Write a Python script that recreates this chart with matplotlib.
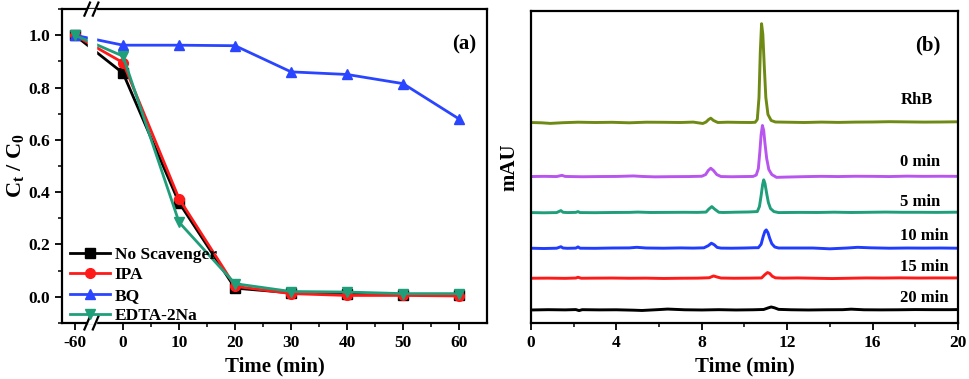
import numpy as np
import matplotlib
matplotlib.use('Agg')
from matplotlib import pyplot as plt

plt.rcParams['font.family'] = ['Liberation Serif', 'DejaVu Serif']
plt.rcParams['font.weight'] = 'bold'
plt.rcParams['mathtext.fontset'] = 'custom'
plt.rcParams['mathtext.rm'] = 'Liberation Serif:bold'
plt.rcParams['mathtext.bf'] = 'Liberation Serif:bold'
plt.rcParams['mathtext.it'] = 'Liberation Serif:bold'

# ---- (a) scavenger experiment ----
time_a = [-60, 0, 10, 20, 30, 40, 50, 60]
no_scav = [1.0, 0.855, 0.36, 0.033, 0.015, 0.010, 0.008, 0.008]
ipa = [1.0, 0.895, 0.375, 0.040, 0.012, 0.005, 0.005, 0.003]
bq = [1.0, 0.962, 0.962, 0.960, 0.860, 0.850, 0.815, 0.680]
edta = [1.0, 0.920, 0.285, 0.050, 0.020, 0.018, 0.012, 0.012]
series_a = [('No Scavenger', no_scav, 'black', 's'),
            ('IPA', ipa, '#ff1a1a', 'o'),
            ('BQ', bq, '#2a45ff', '^'),
            ('EDTA-2Na', edta, '#1f9e7a', 'v')]

# ---- (b) HPLC chromatograms (signal above each baseline) ----
t_rhb = [0, 0.5, 0.9, 1.5, 2.2, 3.0, 3.8, 4.6, 5.4, 6.2, 7.0, 7.6, 8.05, 8.2, 8.32, 8.42, 8.55, 8.75, 9.2, 9.8,
         10.3, 10.5, 10.6, 10.68, 10.74, 10.8, 10.86, 10.93, 11.0, 11.1, 11.25, 11.45, 12.0, 12.8, 13.6, 14.4,
         15.2, 16.0, 16.8, 17.6, 18.4, 19.2, 20.0]
y_rhb = [0, -0.3, -0.9, -0.2, 0.3, 0.0, 0.2, -0.3, 0.3, 0.2, 0.0, 0.4, -1.0, 0.5, 3.0, 4.3, 2.0, 0.0, 0.3, 0.1,
         0.0, 0.2, 3, 25, 70, 98.7, 88, 55, 25, 8, 2, 0.5, 0.3, 0.0, 0.4, 0.1,
         0.4, 0.5, 0.8, 0.6, 0.4, 0.5, 0.7]
t_0 = [0, 0.6, 1.2, 1.45, 1.6, 2.4, 3.2, 4.0, 4.8, 5.2, 5.8, 6.6, 7.4, 8.0, 8.18, 8.3, 8.42, 8.55, 8.7, 8.9,
       9.4, 10.0, 10.4, 10.55, 10.65, 10.72, 10.78, 10.84, 10.9, 10.96, 11.04, 11.14, 11.28, 11.5, 12.0, 12.8,
       13.6, 14.4, 15.2, 16.0, 16.8, 17.6, 18.4, 19.2, 20.0]
y_0 = [0, 0.2, 0.0, 1.2, 0.1, -0.2, 0.0, 0.1, 0.6, 0.1, -0.3, -0.1, 0.0, 0.3, 2.0, 6.0, 8.3, 6.0, 2.0, 0.0,
       -0.2, 0.0, 0.1, 1.5, 8, 25, 42, 51, 46, 33, 18, 7, 2, -0.8, -0.5, -0.1,
       0.2, 0.0, 0.3, 0.2, 0.0, 0.4, 0.2, 0.3, 0.2]
t_5 = [0, 0.6, 1.2, 1.4, 1.5, 1.7, 2.1, 2.2, 2.3, 3.0, 3.8, 4.6, 5.0, 5.6, 6.4, 7.2, 7.8, 8.2, 8.33, 8.47,
       8.6, 8.8, 9.0, 9.6, 10.2, 10.6, 10.7, 10.78, 10.85, 10.9, 10.96, 11.04, 11.12, 11.22, 11.38, 11.6,
       12.6, 13.4, 14.2, 15.0, 15.8, 16.6, 17.4, 18.2, 19.0, 20.0]
y_5 = [0, -0.2, 0.0, 2.0, 0.3, 0.0, 0.2, 1.0, 0.0, -0.1, 0.1, 0.2, 0.5, 0.1, 0.2, 0.3, 0.2, 0.5, 3.5, 6.0,
       3.5, 0.3, 0.1, 0.4, 0.6, 1.0, 6, 17, 28, 32.7, 29, 19, 10, 4, 1, 0.0,
       0.2, 0.1, 0.4, 0.1, 0.3, 0.5, 0.3, 0.3, 0.2, 0.4]
t_10 = [0, 0.6, 1.2, 1.4, 1.5, 1.7, 2.1, 2.2, 2.3, 3.0, 3.8, 4.6, 4.95, 5.4, 6.2, 7.0, 7.6, 8.1, 8.3, 8.45,
        8.58, 8.72, 8.9, 9.4, 10.0, 10.5, 10.65, 10.78, 10.88, 10.96, 11.02, 11.1, 11.18, 11.28, 11.42, 11.6,
        13.2, 14.0, 14.8, 15.3, 15.9, 16.8, 17.6, 18.4, 19.2, 20.0]
y_10 = [0, -0.3, 0.0, 1.5, 0.2, -0.1, 0.1, 1.3, 0.0, -0.1, 0.2, 0.3, 0.9, 0.2, 0.0, 0.3, 0.1, 0.4, 2.5, 5.0,
        3.5, 0.8, 0.1, 0.0, 0.2, 0.5, 0.5, 4, 12, 17, 18.3, 15.5, 10, 4.5, 1.2, 0.2,
        0.2, -0.6, 0.2, 0.9, 0.4, 0.0, 0.2, 0.1, 0.2, 0.0]
t_15 = [0, 0.8, 1.6, 2.1, 2.2, 2.35, 3.0, 3.8, 4.6, 5.4, 6.2, 7.0, 7.8, 8.35, 8.55, 8.72, 8.9, 9.5, 10.2, 10.8,
        10.95, 11.08, 11.18, 11.3, 11.45, 11.8, 12.5, 13.3, 14.1, 14.9, 15.7, 16.5, 17.3, 18.1, 18.9, 20.0]
y_15 = [0, 0.1, -0.1, 0.2, 1.0, 0.0, 0.1, 0.2, 0.0, 0.1, -0.2, 0.0, 0.1, 0.5, 2.3, 1.2, 0.2, 0.0, 0.1, 0.3,
        3.5, 5.7, 4.8, 2.0, 0.4, 0.1, 0.3, 0.0, -0.3, 0.0, 0.3, 0.2, 0.4, 0.2, 0.3, 0.3]
t_20 = [0, 0.8, 1.6, 2.1, 2.25, 2.4, 3.2, 4.0, 4.8, 5.2, 6.0, 6.4, 7.2, 8.0, 8.8, 9.6, 10.4, 10.9, 11.1, 11.25,
        11.4, 11.6, 12.2, 13.0, 13.8, 14.6, 15.0, 15.6, 16.4, 17.2, 18.0, 18.8, 19.6, 20.0]
y_20 = [0, 0.3, 0.1, 0.4, -0.6, 0.3, 0.1, 0.2, -0.2, -0.5, 0.4, 0.9, 0.2, 0.0, 0.3, 0.0, 0.2, 0.5, 2.0, 3.0,
        2.2, 0.6, 0.2, 0.0, 0.2, 0.3, 0.8, 0.2, 0.1, 0.2, 0.4, 0.3, 0.3, 0.4]

labels_b = ['RhB', '0 min', '5 min', '10 min', '15 min', '20 min']
baselines_b = [200.6, 146.6, 110.6, 75.0, 45.0, 13.3]
label_y_b = [223.3, 161.6, 121.6, 87.3, 56.0, 25.6]
colors_b = ['#6f8a14', '#b955ef', '#1f9e7a', '#1f3cff', '#ff1a1a', 'black']
traces_b = [(t_rhb, y_rhb), (t_0, y_0), (t_5, y_5), (t_10, y_10), (t_15, y_15), (t_20, y_20)]

fig = plt.figure(figsize=(9.69, 3.79), dpi=100)

# broken axis: the -60 point sits just left of the break
BREAK_POS = -8.6
def to_axis(t):
    t = np.asarray(t, dtype=float)
    return np.where(t < 0, BREAK_POS, t)

ax1 = fig.add_axes([0.064, 0.148, 0.4386, 0.828])
xa = to_axis(time_a)
handles = []
for name, vals, col, mk in series_a:
    h, = ax1.plot(xa, vals, color=col, marker=mk, ms=7, lw=2.0, label=name, zorder=3)
    handles.append(h)
ax1.set_xlim(-10.9, 65)
ax1.set_ylim(-0.1, 1.1)
ax1.set_xticks(to_axis([-60, 0, 10, 20, 30, 40, 50, 60]))
ax1.set_xticklabels(['-60', '0', '10', '20', '30', '40', '50', '60'])
ax1.set_xticks([5, 15, 25, 35, 45, 55], minor=True)
ax1.set_yticks([0.0, 0.2, 0.4, 0.6, 0.8, 1.0])
ax1.set_yticks(np.arange(-0.1, 1.11, 0.1), minor=True)
ax1.tick_params(which='major', length=5, width=1.3, labelsize=12.5)
ax1.tick_params(which='minor', length=3, width=1.1)
for s in ax1.spines.values():
    s.set_linewidth(1.6)
# gap in the data lines and the frame at the break
ax1.axvspan(-6.3, -4.9, color='white', zorder=4, clip_on=False)
for yy in (1.1, -0.1):
    for dx in (-6.4, -4.9):
        ax1.plot([dx - 0.5, dx + 0.5], [yy - 0.025, yy + 0.025], color='black', lw=1.6,
                 clip_on=False, zorder=5)
ax1.set_xlabel('Time (min)', fontsize=15, fontweight='bold', labelpad=4)
ax1.set_ylabel(r'$\mathrm{C_t}$ / $\mathrm{C_0}$', fontsize=16, fontweight='bold', labelpad=2)
ax1.text(0.975, 0.92, '(a)', transform=ax1.transAxes, fontsize=15, fontweight='bold',
         ha='right', va='top')
ax1.legend(handles=handles, loc='lower left', frameon=False, fontsize=12.5, handlelength=2.3,
           handletextpad=0.3, labelspacing=0.25, borderaxespad=0.0, borderpad=0.2,
           bbox_to_anchor=(0.01, -0.015))

# ---- (b) ----
ax2 = fig.add_axes([0.548, 0.147, 0.4406, 0.824])
for (tt, yy), base, col in zip(traces_b, baselines_b, colors_b):
    ax2.plot(tt, np.asarray(yy) + base, color=col, lw=2.1)
for lab, ly in zip(labels_b, label_y_b):
    ax2.text(17.3, ly, lab, fontsize=12, fontweight='bold', ha='left', va='center')
ax2.set_xlim(0, 20)
ax2.set_ylim(0, 312)
ax2.set_xticks([0, 4, 8, 12, 16, 20])
ax2.set_xticks([2, 6, 10, 14, 18], minor=True)
ax2.set_yticks([])
ax2.tick_params(which='major', length=5, width=1.3, labelsize=12.5)
ax2.tick_params(which='minor', length=3, width=1.1)
for s in ax2.spines.values():
    s.set_linewidth(1.6)
ax2.set_xlabel('Time (min)', fontsize=15, fontweight='bold', labelpad=4)
ax2.set_ylabel('mAU', fontsize=15, fontweight='bold', labelpad=8)
ax2.text(0.96, 0.92, '(b)', transform=ax2.transAxes, fontsize=15, fontweight='bold',
         ha='right', va='top')

fig.savefig('out.png', dpi=100)
